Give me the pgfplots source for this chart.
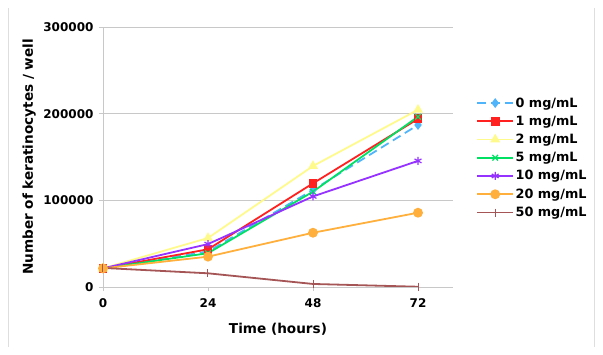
\documentclass[border=0pt]{standalone}
\usepackage{fontspec}
\setmainfont{DejaVu Sans}
\usepackage{pgfplots}
\pgfplotsset{compat=1.18}
\definecolor{cblue}{RGB}{80,180,250}
\definecolor{cred}{RGB}{255,32,32}
\definecolor{cyellow}{RGB}{255,250,140}
\definecolor{cgreen}{RGB}{0,225,100}
\definecolor{cpurple}{RGB}{150,50,255}
\definecolor{corange}{RGB}{255,175,60}
\definecolor{cbrown}{RGB}{165,85,85}
\definecolor{cgrid}{RGB}{200,200,200}
\begin{document}
\begin{tikzpicture}
\useasboundingbox (-103pt,-68pt) rectangle (500pt,287pt);
\draw[cgrid!60, line width=0.8pt] (-95pt,-60pt) -- (-95pt,279pt);
\draw[cgrid!60, line width=0.8pt] (491pt,-60pt) -- (491pt,279pt);
\begin{axis}[
  at={(0,0)}, anchor=south west,
  scale only axis, width=350pt, height=260pt,
  xmin=0, xmax=80, ymin=0, ymax=300000,
  xtick={0,24,48,72}, ytick={0,100000,200000,300000},
  xticklabels={0,24,48,72}, yticklabels={0,100000,200000,300000},
  scaled x ticks=false, scaled y ticks=false,
  tick label style={font=\fontsize{12}{14}\selectfont\bfseries},
  yticklabel style={xshift=-2pt},
  xticklabel style={yshift=-4pt},
  tick align=outside, tick style={cgrid, line width=0.8pt}, major tick length=4pt,
  axis lines*=left, axis line style={cgrid, line width=0.8pt, -},
  ymajorgrids, grid style={cgrid, line width=0.8pt},
  every axis y label/.style={at={(axis description cs:-0.211,0.5)},rotate=90,anchor=center,font=\fontsize{13.6}{16}\selectfont\bfseries},
  every axis x label/.style={at={(axis description cs:0.5,-0.1615)},anchor=center,font=\fontsize{13.6}{16}\selectfont\bfseries},
  xlabel={Time (hours)}, ylabel={Number of keratinocytes / well},
  legend style={at={(axis description cs:1.066,0.735)}, anchor=north west, draw=none, fill=none, inner sep=0pt,
     font=\fontsize{12.8}{15}\selectfont\bfseries, row sep=4.3pt, nodes={inner sep=1.5pt}},
  legend cell align=left,
  legend image code/.code={\draw[line width=1.8pt] (0pt,0pt) -- (36pt,0pt); \draw[mark repeat=2,mark phase=2] plot coordinates {(0pt,0pt) (18pt,0pt) (36pt,0pt)};},
  every axis plot/.append style={line width=1.8pt},
]
\addplot[cblue, dashed, dash pattern=on 9pt off 5pt, mark=diamond*, mark size=3.5pt, mark options={solid}] coordinates {(0,21500) (24,41000) (48,112000) (72,187000)};
\addlegendentry{0 mg/mL}
\addplot[cred, mark=square*, mark size=3.5pt] coordinates {(0,21500) (24,43500) (48,119600) (72,194000)};
\addlegendentry{1 mg/mL}
\addplot[cyellow, mark=triangle*, mark size=4pt] coordinates {(0,21500) (24,56500) (48,139600) (72,204500)};
\addlegendentry{2 mg/mL}
\addplot[cgreen, mark=x, mark size=4pt, mark options={solid,line width=1.2pt}] coordinates {(0,21500) (24,39000) (48,110000) (72,196500)};
\addlegendentry{5 mg/mL}
\addplot[cpurple, mark=asterisk, mark size=4pt, mark options={solid,line width=1.2pt}] coordinates {(0,21500) (24,49500) (48,104500) (72,145500)};
\addlegendentry{10 mg/mL}
\addplot[corange, mark=*, mark size=4pt] coordinates {(0,21500) (24,35000) (48,62600) (72,85700)};
\addlegendentry{20 mg/mL}
\addplot[cbrown, mark=|, mark size=4pt, mark options={solid,line width=1pt}] coordinates {(0,22000) (24,15800) (48,3500) (72,300)};
\addlegendentry{50 mg/mL}
\end{axis}
\end{tikzpicture}
\end{document}
